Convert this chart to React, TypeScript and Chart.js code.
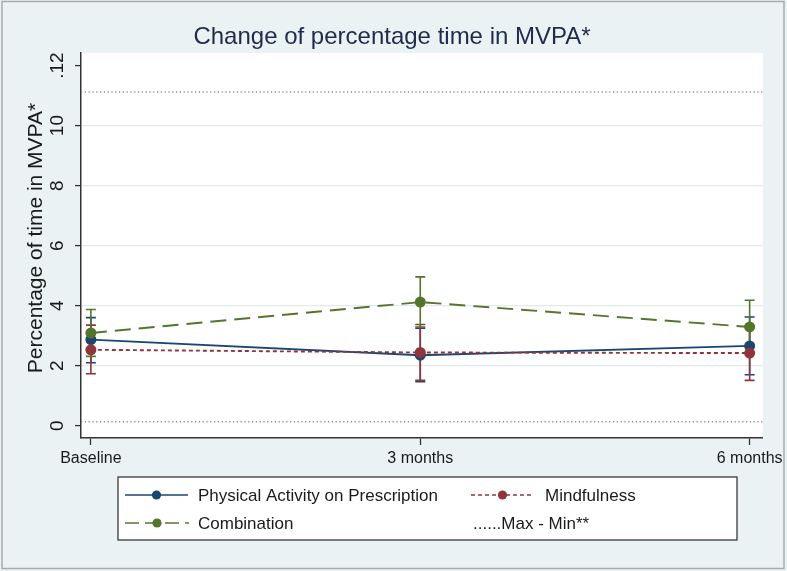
import React, { useEffect, useRef } from 'react';
import { Chart, registerables } from 'chart.js';

Chart.register(...registerables);

// ---------- data ----------
const months = [0, 3, 6];
const xTickLabels = ['Baseline', '3 months', '6 months'];
const yTickValues = [0, 2, 4, 6, 8, 10, 12];
const yTickLabels = ['0', '2', '4', '6', '8', '10', '.12'];

const papMean = [2.87, 2.35, 2.66];
const papLow = [2.1, 1.47, 1.7];
const papHigh = [3.6, 3.25, 3.62];

const mindMean = [2.53, 2.44, 2.42];
const mindLow = [1.73, 1.51, 1.51];
const mindHigh = [3.35, 3.37, 3.33];

const comboMean = [3.09, 4.12, 3.29];
const comboLow = [2.31, 3.29, 2.4];
const comboHigh = [3.87, 4.96, 4.18];

const maxValue = 11.12;
const minValue = 0.13;

const seriesNames = ['Physical Activity on Prescription', 'Mindfulness', 'Combination'];
const refLineLabel = '......Max - Min**';
const titleText = 'Change of percentage time in MVPA*';
const yAxisTitle = 'Percentage of time in MVPA*';

// ---------- styling ----------
const FONT = '"Liberation Sans", Arial, sans-serif';
const PAP = '#1a476f';
const MIND = '#90353b';
const COMBO = '#55752f';
const REF = '#8a8a8a';
const BG = '#eaf2f3';
const AXIS = '#333333';
const xMin = -0.09;
const xMax = 6.12;
const yMin = -0.41;
const yMax = 12.42;

const backgroundPlugin = {
  id: 'bgPlugin',
  beforeDraw(chart: any) {
    const { ctx, chartArea, width, height } = chart;
    ctx.save();
    ctx.fillStyle = BG;
    ctx.fillRect(0, 0, width, height);
    ctx.strokeStyle = '#a8acae';
    ctx.lineWidth = 1.5;
    ctx.strokeRect(2, 1.5, width - 5, height - 4);
    ctx.fillStyle = '#ffffff';
    ctx.fillRect(chartArea.left, chartArea.top, chartArea.right - chartArea.left, chartArea.bottom - chartArea.top);
    ctx.restore();
  },
};

const errorBarPlugin = {
  id: 'errorBars',
  beforeDatasetsDraw(chart: any) {
    const { ctx, scales } = chart;
    const x = scales.x;
    const y = scales.y;
    const groups = [
      { low: papLow, high: papHigh, color: PAP },
      { low: mindLow, high: mindHigh, color: MIND },
      { low: comboLow, high: comboHigh, color: COMBO },
    ];
    ctx.save();
    groups.forEach((g) => {
      months.forEach((m, i) => {
        const px = x.getPixelForValue(m);
        const y1 = y.getPixelForValue(g.low[i]);
        const y2 = y.getPixelForValue(g.high[i]);
        ctx.strokeStyle = g.color;
        ctx.lineWidth = 1.6;
        ctx.beginPath();
        ctx.moveTo(px, y1);
        ctx.lineTo(px, y2);
        ctx.moveTo(px - 5, y1);
        ctx.lineTo(px + 5, y1);
        ctx.moveTo(px - 5, y2);
        ctx.lineTo(px + 5, y2);
        ctx.stroke();
      });
    });
    ctx.restore();
  },
};

function legendSymbol(ctx: CanvasRenderingContext2D, x1: number, x2: number, yc: number, color: string, dash: number[]) {
  ctx.save();
  ctx.strokeStyle = color;
  ctx.lineWidth = 1.6;
  ctx.setLineDash(dash);
  ctx.beginPath();
  ctx.moveTo(x1, yc);
  ctx.lineTo(x2, yc);
  ctx.stroke();
  ctx.setLineDash([]);
  ctx.fillStyle = color;
  ctx.beginPath();
  ctx.arc((x1 + x2) / 2, yc, 4.6, 0, Math.PI * 2);
  ctx.fill();
  ctx.restore();
}

const textPlugin = {
  id: 'texts',
  afterDraw(chart: any) {
    const { ctx } = chart;
    ctx.save();
    // title
    ctx.fillStyle = '#1e2b4a';
    ctx.font = `24px ${FONT}`;
    ctx.textAlign = 'center';
    ctx.textBaseline = 'alphabetic';
    ctx.fillText(titleText, 392, 44);
    // y-axis title
    ctx.save();
    ctx.translate(42, 238);
    ctx.rotate(-Math.PI / 2);
    ctx.fillStyle = '#1a1a1a';
    ctx.font = `21px ${FONT}`;
    ctx.textAlign = 'center';
    ctx.fillText(yAxisTitle, 0, 0);
    ctx.restore();
    // legend box
    const L = 118, T = 477, R = 737, B = 540;
    ctx.fillStyle = '#ffffff';
    ctx.fillRect(L, T, R - L, B - T);
    ctx.strokeStyle = '#3a3a3a';
    ctx.lineWidth = 1.3;
    ctx.strokeRect(L, T, R - L, B - T);
    const r1 = 495, r2 = 523;
    legendSymbol(ctx, 125, 188, r1, PAP, []);
    legendSymbol(ctx, 471, 534, r1, MIND, [4, 3]);
    legendSymbol(ctx, 125, 189, r2, COMBO, [14, 6]);
    ctx.fillStyle = '#1a1a1a';
    ctx.font = `17px ${FONT}`;
    ctx.textAlign = 'left';
    ctx.textBaseline = 'middle';
    ctx.fillText(seriesNames[0], 198, r1 + 1);
    ctx.fillText(seriesNames[1], 545, r1 + 1);
    ctx.fillText(seriesNames[2], 198, r2 + 1);
    ctx.fillText(refLineLabel, 473, r2 + 1);
    ctx.restore();
  },
};

function toPoints(vals: number[]) {
  return months.map((m, i) => ({ x: m, y: vals[i] }));
}

export default function App() {
  const canvasRef = useRef<HTMLCanvasElement | null>(null);

  useEffect(() => {
    const canvas = canvasRef.current;
    if (!canvas) return;
    const chart = new Chart(canvas, {
      type: 'line',
      data: {
        datasets: [
          {
            label: seriesNames[2],
            data: toPoints(comboMean),
            borderColor: COMBO,
            backgroundColor: COMBO,
            borderWidth: 1.9,
            borderDash: [16, 8],
            pointRadius: 5.5,
            pointBorderWidth: 0,
            pointBackgroundColor: COMBO,
            order: 1,
          },
          {
            label: seriesNames[1],
            data: toPoints(mindMean),
            borderColor: MIND,
            backgroundColor: MIND,
            borderWidth: 1.9,
            borderDash: [4, 3],
            pointRadius: 5.5,
            pointBorderWidth: 0,
            pointBackgroundColor: MIND,
            order: 2,
          },
          {
            label: seriesNames[0],
            data: toPoints(papMean),
            borderColor: PAP,
            backgroundColor: PAP,
            borderWidth: 1.9,
            pointRadius: 5.5,
            pointBorderWidth: 0,
            pointBackgroundColor: PAP,
            order: 3,
          },
          {
            label: 'Max',
            data: [{ x: xMin, y: maxValue }, { x: xMax, y: maxValue }],
            borderColor: REF,
            borderWidth: 1.5,
            borderDash: [1.2, 2.6],
            pointRadius: 0,
            order: 4,
          },
          {
            label: 'Min',
            data: [{ x: xMin, y: minValue }, { x: xMax, y: minValue }],
            borderColor: REF,
            borderWidth: 1.5,
            borderDash: [1.2, 2.6],
            pointRadius: 0,
            order: 4,
          },
        ],
      },
      options: {
        responsive: false,
        animation: false,
        events: [],
        layout: { padding: { left: 0, top: 53, right: 23, bottom: 93 } },
        plugins: {
          legend: { display: false },
          title: { display: false },
          tooltip: { enabled: false },
        },
        scales: {
          x: {
            type: 'linear',
            min: xMin,
            max: xMax,
            afterBuildTicks: (s: any) => {
              s.ticks = months.map((v) => ({ value: v }));
            },
            afterFit: (s: any) => {
              s.height = 40;
            },
            ticks: {
              callback: (_v: any, i: number) => xTickLabels[i],
              autoSkip: false,
              maxRotation: 0,
              minRotation: 0,
              padding: 4,
              color: '#1a1a1a',
              font: { family: FONT, size: 16 },
            },
            grid: { drawOnChartArea: false, tickLength: 7, tickColor: AXIS, tickWidth: 1.3 },
            border: { color: AXIS, width: 1.5 },
          },
          y: {
            type: 'linear',
            min: yMin,
            max: yMax,
            afterBuildTicks: (s: any) => {
              s.ticks = yTickValues.map((v) => ({ value: v }));
            },
            afterFit: (s: any) => {
              s.width = 81;
            },
            ticks: {
              callback: (_v: any, i: number) => yTickLabels[i],
              autoSkip: false,
              minRotation: 90,
              maxRotation: 90,
              crossAlign: 'center',
              padding: 4,
              color: '#1a1a1a',
              font: { family: FONT, size: 19 },
            },
            grid: {
              color: (c: any) =>
                c.tick && (c.tick.value === 0 || c.tick.value === 12) ? 'rgba(0,0,0,0)' : '#e2eaec',
              lineWidth: 1.2,
              tickLength: 6,
              tickColor: AXIS,
              tickWidth: 1.3,
            },
            border: { color: AXIS, width: 1.5 },
          },
        },
      },
      plugins: [backgroundPlugin, errorBarPlugin, textPlugin],
    } as any);
    return () => chart.destroy();
  }, []);

  return (
    <div style={{ position: 'absolute', left: 0, top: 0, width: 787, height: 571 }}>
      <canvas ref={canvasRef} width={787} height={571} />
    </div>
  );
}
